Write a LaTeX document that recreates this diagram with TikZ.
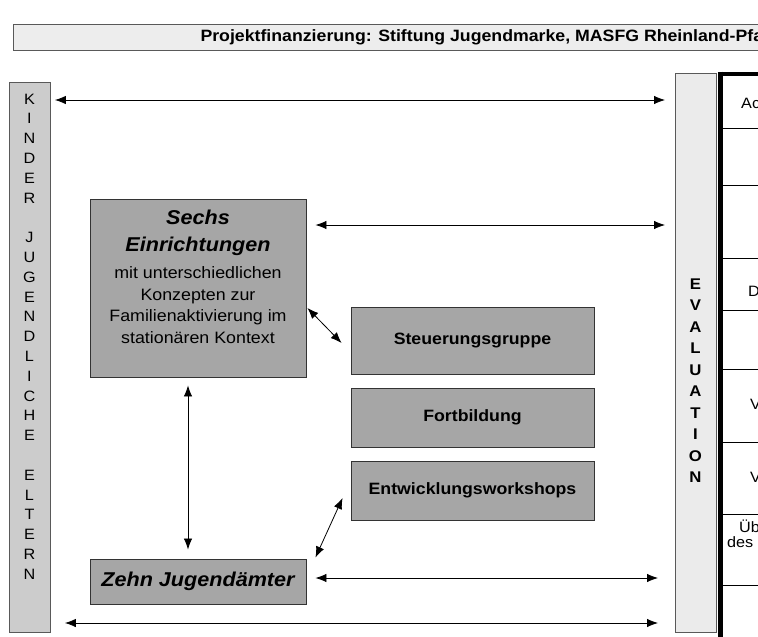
\documentclass[tikz,border=0pt]{standalone}
\usepackage{fontspec}
\setmainfont{Liberation Sans}[FakeStretch=1.08]
\usetikzlibrary{calc}
\usetikzlibrary{arrows.meta}

\begin{document}
\begin{tikzpicture}[
	x=1pt,y=-1pt,
	>={Latex[length=11pt,width=8.5pt]},
	bar/.style={draw=black!65,line width=0.9pt,anchor=north west,inner sep=0pt},
	box/.style={draw=black!80,fill=black!35,line width=0.9pt,inner sep=0pt},
	lbl/.style={font=\fontsize{16.4}{19}\selectfont\bfseries},
	ttl/.style={font=\fontsize{20}{27}\selectfont\bfseries\itshape,align=center},
	body/.style={font=\fontsize{16.5}{21.5}\selectfont,align=center},
	letter/.style={font=\fontsize{15}{16}\selectfont,inner sep=0pt},
	evletter/.style={font=\fontsize{15.5}{16}\selectfont\bfseries,inner sep=0pt},
	cell/.style={font=\fontsize{15}{16}\selectfont,anchor=west,inner sep=0pt},
	link/.style={<->,line width=0.8pt},
	rowline/.style={line width=1pt},
]
	\useasboundingbox (0,0) rectangle (758,637);
	\clip (0,0) rectangle (758,637);

	% funding banner (runs past the right edge)
	\node[bar,fill=black!7,minimum width=780,minimum height=26] (fund) at (13,24) {};
	\node[lbl,anchor=west] (fundtext) at (197,37)
		{Projektfinanzierung: Stiftung Jugendmarke, MASFG Rheinland-Pfa};

	% side bars
	\node[bar,fill=black!20,minimum width=41,minimum height=550] (kinder) at (9,82) {};
	\node[bar,fill=black!8,minimum width=41,minimum height=559] (eval) at (675,73) {};
	\foreach \l [count=\i from 0] in {K,I,N,D,E,R,-,J,U,G,E,N,D,L,I,C,H,E,-,E,L,T,E,R,N}{
		\if\l-\else\node[letter] (k\i) at (29.5,99+19.8*\i) {\l};\fi
	}
	\foreach \l [count=\i from 0] in {E,V,A,L,U,A,T,I,O,N}{
		\node[evletter] (e\i) at (695.5,284+21.5*\i) {\l};
	}

	% table on the right
	\draw[line width=5pt] (720.8,71.5) -- (720.8,640);
	\draw[line width=3.5pt] (718.3,74) -- (760,74);
	\foreach \y in {128,185,258,310,369,442,514,585}{
		\draw[rowline] (723,\y) -- (760,\y);
	}
	\node[cell] (c1) at (741,103) {Ac};
	\node[cell] (c2) at (748,291) {D};
	\node[cell] (c3) at (750,404) {V};
	\node[cell] (c4) at (750,477) {V};
	\node[cell] (c5) at (739,526) {Üb};
	\node[cell] (c6) at (727,542) {des};

	% boxes
	\node[box,minimum width=216,minimum height=178] (sechs) at (198,288) {};
	\node[ttl] (sechstitle) at (198,233) {Sechs\\Einrichtungen};
	\node[body] (sechsbody) at (198,305)
		{mit unterschiedlichen\\Konzepten zur\\Familienaktivierung im\\stationären Kontext};
	\node[box,lbl,minimum width=243,minimum height=67] (steuer) at (472.5,340.5) {Steuerungsgruppe};
	\node[box,lbl,minimum width=243,minimum height=59] (fort) at (472.5,417.5) {Fortbildung};
	\node[box,lbl,minimum width=243,minimum height=59] (entw) at (472.5,490.5) {Entwicklungsworkshops};
	\node[box,minimum width=216,minimum height=45,
		font=\fontsize{20}{22}\selectfont\bfseries\itshape] (zehn) at (198,581.5) {Zehn Jugendämter};

	% connectors
	\draw[link] ($(kinder.east|-0,100)+(4,0)$) -- ($(eval.west|-0,100)+(-10,0)$);
	\draw[link] ($(sechs.east|-0,225)+(9,0)$) -- ($(eval.west|-0,225)+(-10,0)$);
	\draw[link] ($(sechs.east|-0,308)+(1,0)$) -- ($(steuer.west|-0,343)+(-9,0)$);
	\draw[link] ($(sechs.south)+(-10,8)$) -- ($(zehn.north)+(-10,-9)$);
	\draw[link] ($(entw.west|-0,498)+(-8,0)$) -- ($(zehn.north east)+(9,-1)$);
	\draw[link] ($(zehn.east)+(9,-3.5)$) -- ($(eval.west|-0,578)+(-17,0)$);
	\draw[link] ($(kinder.east|-0,623)+(14,0)$) -- ($(eval.west|-0,623)+(-17,0)$);
\end{tikzpicture}
\end{document}
